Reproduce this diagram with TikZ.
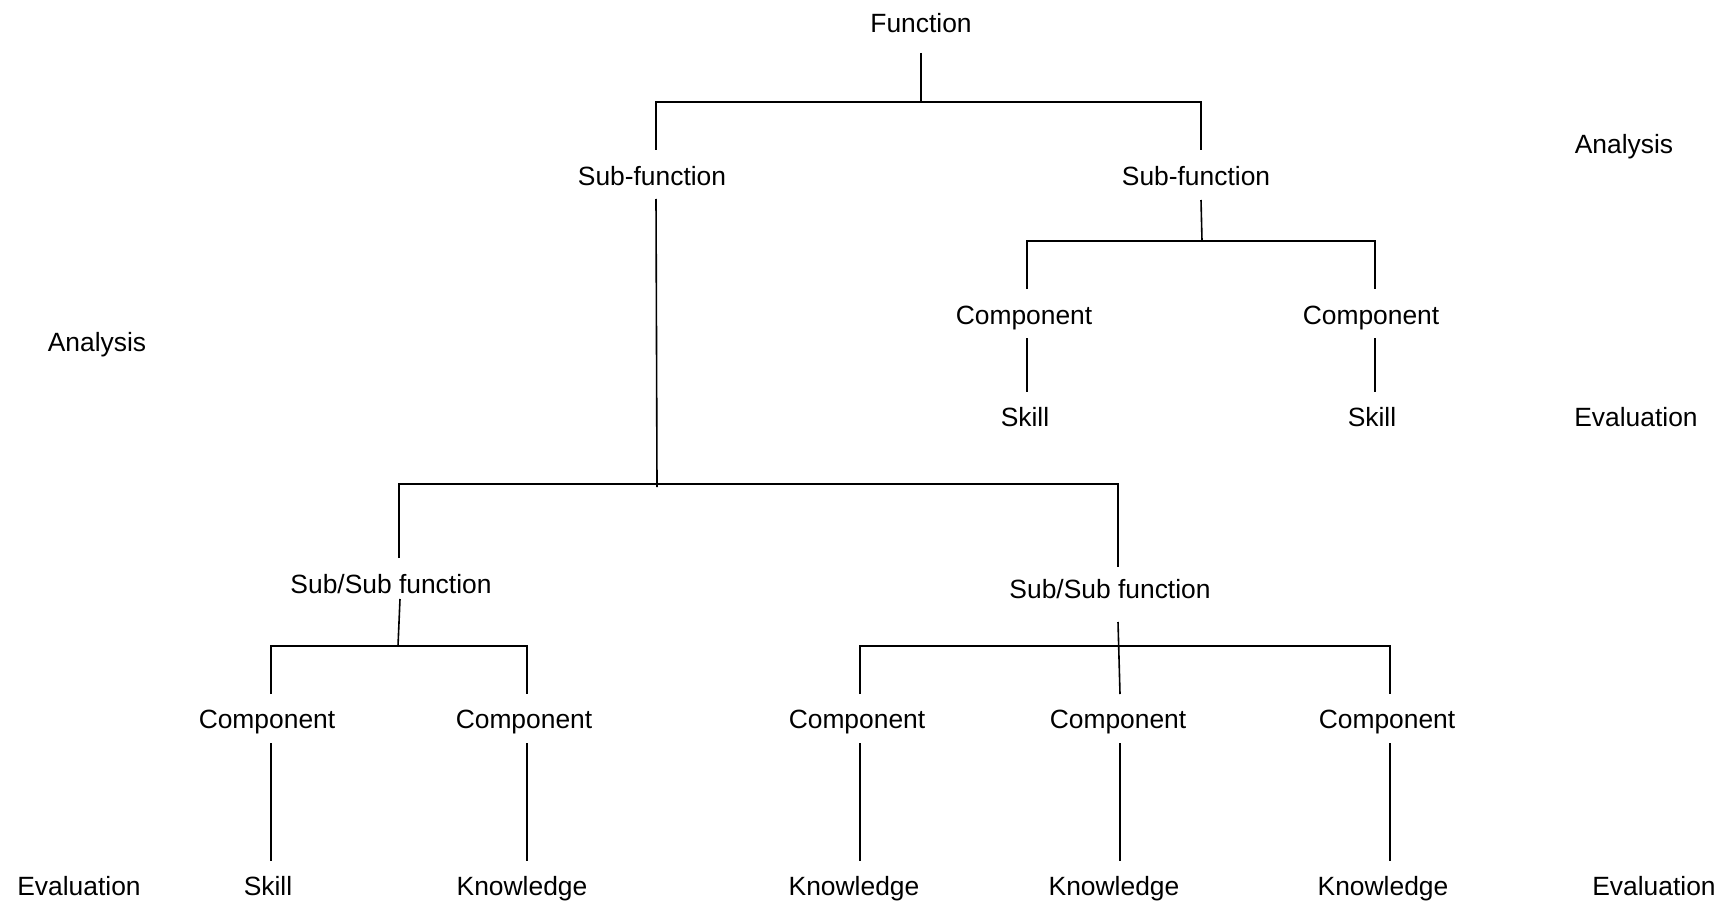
\documentclass[tikz,border=0pt]{standalone}
\usepackage{fontspec}
\setmainfont{Liberation Sans}
\usetikzlibrary{calc}
\begin{document}
\begin{tikzpicture}[x=1pt,y=-1pt,
  lbl/.style={font=\fontsize{26.4}{30}\selectfont, text height=19pt, text depth=0pt, inner sep=0pt},
  link/.style={line width=1.6pt, black}]
\useasboundingbox (0,0) rectangle (1723,904);

% labels
\node[lbl] (fn)   at (921,23)   {Function};
\node[lbl] (sfL)  at (652,176)  {Sub-function};
\node[lbl] (sfR)  at (1196,176) {Sub-function};
\node[lbl] (anT)  at (1624,144) {Analysis};
\node[lbl] (anL)  at (97,342)   {Analysis};
\node[lbl] (cR1)  at (1024,315) {Component};
\node[lbl] (cR2)  at (1371,315) {Component};
\node[lbl] (skR1) at (1025,417) {Skill};
\node[lbl] (skR2) at (1372,417) {Skill};
\node[lbl] (evR)  at (1636,417) {Evaluation};
\node[lbl] (ssL)  at (391,584)  {Sub/Sub function};
\node[lbl] (ssR)  at (1110,589) {Sub/Sub function};
\node[lbl] (cB1)  at (267,719)  {Component};
\node[lbl] (cB2)  at (524,719)  {Component};
\node[lbl] (cB3)  at (857,719)  {Component};
\node[lbl] (cB4)  at (1118,719) {Component};
\node[lbl] (cB5)  at (1387,719) {Component};
\node[lbl] (evL)  at (79,886)   {Evaluation};
\node[lbl] (skB)  at (268,886)  {Skill};
\node[lbl] (kn1)  at (522,886)  {Knowledge};
\node[lbl] (kn2)  at (854,886)  {Knowledge};
\node[lbl] (kn3)  at (1114,886) {Knowledge};
\node[lbl] (kn4)  at (1383,886) {Knowledge};
\node[lbl] (evB)  at (1654,886) {Evaluation};

% junctions of the bars
\coordinate (j0) at (921,102);
\coordinate (j1) at (1202,241);
\coordinate (j2) at (657,484);
\coordinate (j3) at (398,646);
\coordinate (j4) at (1119,646);

% Function -> Sub-functions
\draw[link] ($(fn.center)+(0,30)$) -- ($(j0)+(0,1)$);
\draw[link] ($(sfL.center)+(4,-26)$) |- (j0) -| ($(sfR.center)+(5,-26)$);

% right Sub-function -> Components -> Skills
\draw[link] ($(sfR.center)+(5,24)$) -- (j1);
\draw[link] ($(cR1.center)+(3,-26)$) |- (j1) -| ($(cR2.center)+(4,-26)$);
\draw[link] ($(cR1.center)+(3,23)$) -- ($(skR1.center)+(2,-25)$);
\draw[link] ($(cR2.center)+(4,23)$) -- ($(skR2.center)+(3,-25)$);

% left Sub-function -> Sub/Sub functions
\draw[link] ($(sfL.center)+(4,23)$) -- ($(j2)+(0,3)$);
\draw[link] ($(ssL.center)+(8,-26)$) |- (j2) -| ($(ssR.center)+(8,-22)$);

% left Sub/Sub function -> Components
\draw[link] ($(ssL.center)+(9,15)$) -- (j3);
\draw[link] ($(cB1.center)+(4,-25)$) |- (j3) -| ($(cB2.center)+(3,-25)$);

% right Sub/Sub function -> Components
\draw[link] ($(ssR.center)+(8,33)$) -- ($(cB4.center)+(2,-25)$);
\draw[link] ($(cB3.center)+(3,-25)$) |- (j4) -| ($(cB5.center)+(3,-25)$);

% Components -> Skill / Knowledge
\draw[link] ($(cB1.center)+(4,24)$) -- ($(skB.center)+(3,-25)$);
\draw[link] ($(cB2.center)+(3,24)$) -- ($(kn1.center)+(5,-25)$);
\draw[link] ($(cB3.center)+(3,24)$) -- ($(kn2.center)+(6,-25)$);
\draw[link] ($(cB4.center)+(2,24)$) -- ($(kn3.center)+(6,-25)$);
\draw[link] ($(cB5.center)+(3,24)$) -- ($(kn4.center)+(7,-25)$);
\end{tikzpicture}
\end{document}
